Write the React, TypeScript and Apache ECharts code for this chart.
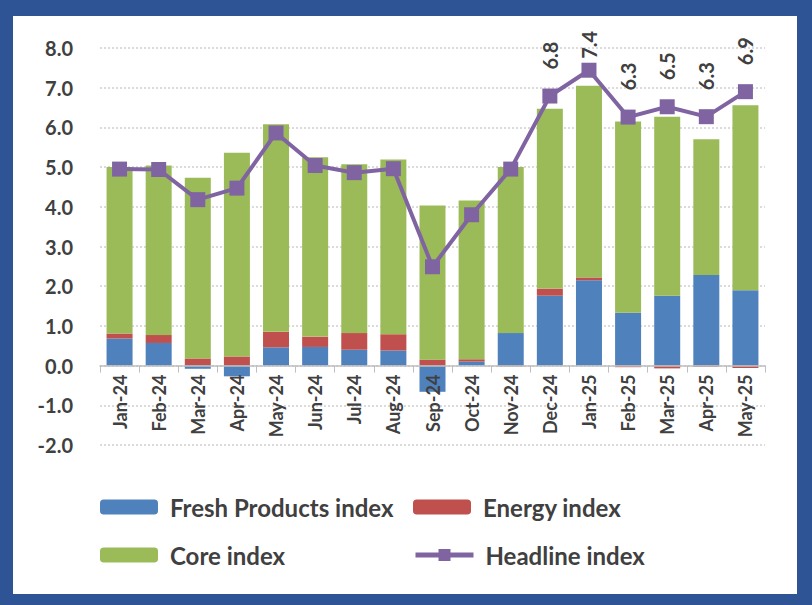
import React, { useEffect, useRef } from "react";
import * as echarts from "echarts";

const categories = [
  "Jan-24", "Feb-24", "Mar-24", "Apr-24", "May-24", "Jun-24", "Jul-24", "Aug-24", "Sep-24",
  "Oct-24", "Nov-24", "Dec-24", "Jan-25", "Feb-25", "Mar-25", "Apr-25", "May-25",
];
const freshProducts = [0.68, 0.57, -0.08, -0.27, 0.46, 0.47, 0.40, 0.38, -0.66, 0.10, 0.82, 1.76, 2.15, 1.33, 1.76, 2.28, 1.90];
const energy = [0.13, 0.20, 0.18, 0.23, 0.39, 0.26, 0.42, 0.41, 0.15, 0.06, -0.02, 0.18, 0.07, -0.04, -0.07, -0.03, -0.06];
const core = [4.19, 4.27, 4.55, 5.13, 5.23, 4.52, 4.25, 4.40, 3.88, 4.00, 4.18, 4.53, 4.83, 4.82, 4.51, 3.42, 4.66];
const headline = [4.95, 4.94, 4.18, 4.47, 5.86, 5.04, 4.86, 4.96, 2.49, 3.80, 4.95, 6.79, 7.44, 6.26, 6.52, 6.27, 6.90];
const labelledFrom = 11; // headline values are labelled from Dec-24 on
const yTicks = [-2, -1, 0, 1, 2, 3, 4, 5, 6, 7, 8];

const FONT = "Lato";
const TEXT = "#404040";

const GRID_TOP = 48;
const GRID_BOTTOM = 160;
const H = 605;

export default function App() {
  const ref = useRef<HTMLDivElement>(null);
  useEffect(() => {
    if (!ref.current) return;
    const chart = echarts.init(ref.current, null, { renderer: "svg" });
    const maxHeadline = Math.max(...headline);
    const yMin = yTicks[0];
    const yMax = yTicks[yTicks.length - 1];
    const gridH = H - GRID_TOP - GRID_BOTTOM;
    // move the category axis (line, ticks and labels) up to the zero line
    const zeroOffset = -(gridH * (0 - yMin)) / (yMax - yMin);
    const legendText = { fontFamily: FONT, fontWeight: "bold", fontSize: 24, lineHeight: 24, color: TEXT, padding: [0, 0, 0, 7] };
    const legendBase = { padding: 0, itemWidth: 58, itemHeight: 15, textStyle: legendText };
    chart.setOption({
      animation: false,
      backgroundColor: "#2E5496",
      graphic: [
        { type: "rect", shape: { x: 13, y: 16, width: 784, height: 578 }, style: { fill: "#ffffff" }, z: -10, silent: true },
      ],
      grid: { left: 100, right: 47, top: GRID_TOP, bottom: GRID_BOTTOM },
      xAxis: {
        type: "category",
        data: categories,
        offset: zeroOffset,
        z: 4,
        axisLine: { onZero: false, lineStyle: { color: "#BFBFBF", width: 1.5 } },
        axisTick: { show: true, length: 7, lineStyle: { color: "#BFBFBF" } },
        axisLabel: { rotate: 90, margin: 9, fontFamily: FONT, fontWeight: "bold", fontSize: 18, color: TEXT },
      },
      yAxis: {
        type: "value",
        min: yMin,
        max: yMax,
        interval: 1,
        axisLine: { show: false },
        axisTick: { show: false },
        axisLabel: { margin: 27, fontFamily: FONT, fontWeight: "bold", fontSize: 20, color: TEXT, formatter: (v: number) => v.toFixed(1) },
        splitLine: { lineStyle: { color: "#CFCFCF", type: [2, 2], width: 1.5 } },
      },
      legend: [
        { ...legendBase, left: 100, top: 495, data: ["Fresh Products index"] },
        { ...legendBase, left: 413, top: 495, data: ["Energy index"] },
        { ...legendBase, left: 100, top: 543, data: ["Core index"] },
        { ...legendBase, left: 413, top: 543, data: ["Headline index"], lineStyle: { width: 5 } },
      ],
      series: [
        { name: "Fresh Products index", type: "bar", stack: "total", barWidth: 26, data: freshProducts, itemStyle: { color: "#4F81BD" } },
        { name: "Energy index", type: "bar", stack: "total", barWidth: 26, data: energy, itemStyle: { color: "#C0504D" } },
        { name: "Core index", type: "bar", stack: "total", barWidth: 26, data: core, itemStyle: { color: "#9BBB59" } },
        {
          name: "Headline index",
          type: "line",
          symbol: "rect",
          symbolSize: 15,
          lineStyle: { color: "#8064A2", width: 4 },
          itemStyle: { color: "#8064A2" },
          z: 5,
          data: headline.map((v, i) => ({
            value: v,
            label: {
              show: i >= labelledFrom,
              distance: v === maxHeadline ? 4 : 19,
            },
          })),
          label: {
            position: "top",
            rotate: 90,
            align: "left",
            verticalAlign: "middle",
            fontFamily: FONT,
            fontWeight: "bold",
            fontSize: 20,
            color: TEXT,
            formatter: (p: any) => Number(p.value).toFixed(1),
          },
        },
      ],
    });
    return () => chart.dispose();
  }, []);
  return <div ref={ref} style={{ position: "absolute", left: 0, top: 0, width: 812, height: 605 }} />;
}
